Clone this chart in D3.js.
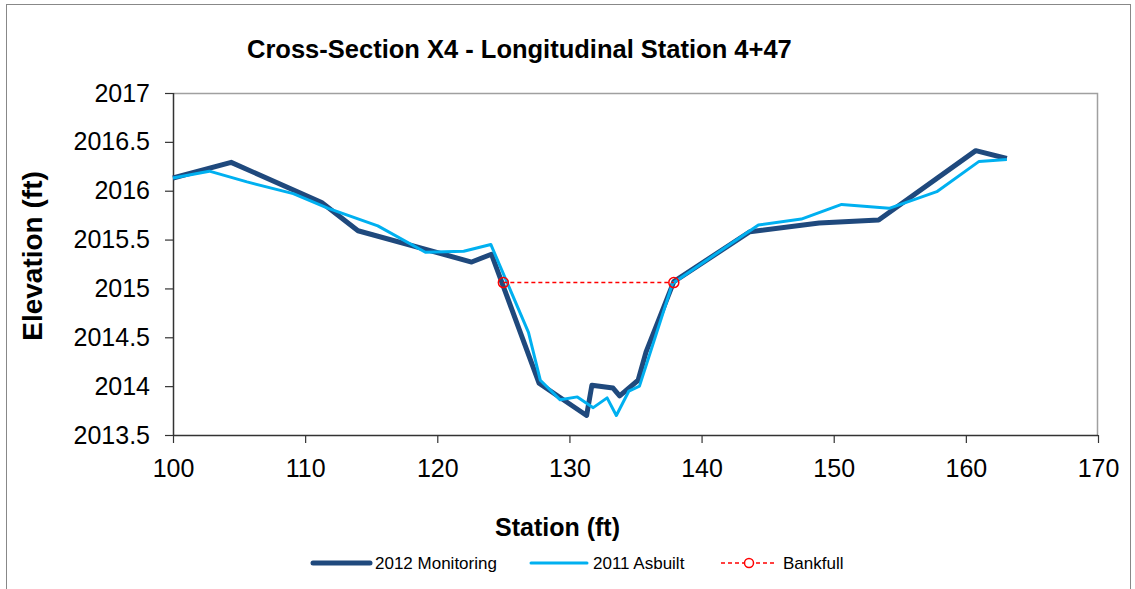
<!DOCTYPE html>
<html>
<head>
<meta charset="utf-8">
<script src="https://cdn.jsdelivr.net/npm/d3@7/dist/d3.min.js"></script>
<style>
  html, body { margin: 0; padding: 0; background: #fff; }
  svg { display: block; }
  text { font-family: "Liberation Sans", Arial, sans-serif; fill: #000; }
</style>
</head>
<body>
<svg id="chart" width="1135" height="589"></svg>
<script>
// ---- Data ----
const monStation = [100, 104.4, 111.25, 114.0, 122.6, 124.1, 127.7, 131.3, 131.7, 133.3, 133.8, 135.2, 135.8, 137.9, 143.65, 148.9, 153.4, 160.75, 163.1];
const monElev    = [2016.13, 2016.29, 2015.88, 2015.59, 2015.27, 2015.35, 2014.03, 2013.70, 2014.01, 2013.98, 2013.90, 2014.06, 2014.35, 2015.07, 2015.58, 2015.67, 2015.70, 2016.41, 2016.33];

const asbStation = [100, 102.75, 105.6, 109.1, 111.75, 115.5, 119.1, 122.0, 124.05, 126.9, 127.8, 129.3, 130.6, 131.8, 132.85, 133.55, 134.5, 135.3, 137.8, 144.3, 147.55, 150.6, 154.2, 157.8, 161.0, 163.1];
const asbElev    = [2016.13, 2016.20, 2016.09, 2015.97, 2015.82, 2015.64, 2015.37, 2015.38, 2015.45, 2014.55, 2014.06, 2013.86, 2013.89, 2013.78, 2013.88, 2013.70, 2013.95, 2014.00, 2015.05, 2015.65, 2015.71, 2015.86, 2015.82, 2015.99, 2016.30, 2016.32];

const bankStation = [125.0, 137.9];
const bankElev    = [2015.06, 2015.06];

const xTicks = [100, 110, 120, 130, 140, 150, 160, 170];
const yTicks = [2013.5, 2014, 2014.5, 2015, 2015.5, 2016, 2016.5, 2017];

const seriesNames = ["2012 Monitoring", "2011 Asbuilt", "Bankfull"];
const titleText = "Cross-Section X4 - Longitudinal Station 4+47";
const xTitle = "Station (ft)";
const yTitle = "Elevation (ft)";

// ---- Layout ----
const svg = d3.select("#chart");
const plot = { left: 173, right: 1098, top: 93, bottom: 435 };
const x = d3.scaleLinear().domain([100, 170]).range([plot.left, plot.right]);
const y = d3.scaleLinear().domain([2013.5, 2017]).range([plot.bottom, plot.top]);

const darkCol = "#1f497d";
const lightCol = "#00b0f0";
const redCol = "#ff0000";

// outer chart border
svg.append("rect").attr("x", 6.5).attr("y", 4.5).attr("width", 1124).attr("height", 600)
  .attr("fill", "none").attr("stroke", "#888").attr("stroke-width", 1);

// plot area border (top & right)
svg.append("path")
  .attr("d", `M${plot.left},${plot.top + 0.5}H${plot.right - 0.5}V${plot.bottom}`)
  .attr("fill", "none").attr("stroke", "#a0a0a0").attr("stroke-width", 1.5);

// axes
const xAxis = d3.axisBottom(x).tickValues(xTicks).tickSize(8).tickPadding(16).tickFormat(d3.format("d"));
const yAxis = d3.axisLeft(y).tickValues(yTicks).tickSize(8).tickPadding(15).tickFormat(d => String(d));

const gx = svg.append("g").attr("transform", `translate(0,${plot.bottom})`).call(xAxis);
const gy = svg.append("g").attr("transform", `translate(${plot.left},0)`).call(yAxis);
[gx, gy].forEach(g => {
  g.select(".domain").attr("stroke", "#333").attr("stroke-width", 1.5);
  g.selectAll(".tick line").attr("stroke", "#333").attr("stroke-width", 1.2);
  g.selectAll(".tick text").attr("font-size", 25).attr("fill", "#000")
    .attr("font-family", '"Liberation Sans", Arial, sans-serif');
});
gx.select(".domain").attr("d", `M${plot.left},0.5H${plot.right}`);
gy.select(".domain").attr("d", `M0.5,${plot.top}V${plot.bottom}`);

// lines
const line = d3.line().x(d => x(d[0])).y(d => y(d[1]));
const monData = monStation.map((s, i) => [s, monElev[i]]);
const asbData = asbStation.map((s, i) => [s, asbElev[i]]);
const bankData = bankStation.map((s, i) => [s, bankElev[i]]);

svg.append("path").datum(monData).attr("d", line)
  .attr("fill", "none").attr("stroke", darkCol).attr("stroke-width", 5).attr("stroke-linejoin", "round");
svg.append("path").datum(asbData).attr("d", line)
  .attr("fill", "none").attr("stroke", lightCol).attr("stroke-width", 3).attr("stroke-linejoin", "round");
svg.append("path").datum(bankData).attr("d", line)
  .attr("fill", "none").attr("stroke", redCol).attr("stroke-width", 1.5).attr("stroke-dasharray", "4,3");
svg.selectAll("circle.bank").data(bankData).enter().append("circle")
  .attr("class", "bank").attr("cx", d => x(d[0])).attr("cy", d => y(d[1])).attr("r", 5)
  .attr("fill", "none").attr("stroke", redCol).attr("stroke-width", 1.5);

// titles
svg.append("text").attr("x", 247).attr("y", 58).attr("font-size", 25.5).attr("font-weight", "bold")
  .text(titleText);
svg.append("text").attr("x", (plot.left + plot.right) / 2 - 78).attr("y", 536).attr("text-anchor", "middle")
  .attr("font-size", 25).attr("font-weight", "bold").text(xTitle);
svg.append("text").attr("transform", `translate(42,256) rotate(-90)`)
  .attr("text-anchor", "middle").attr("font-size", 28).attr("font-weight", "bold").text(yTitle);

// legend
const legY = 563;
const leg = [
  { x1: 313, x2: 370, tx: 375, col: darkCol, w: 5, name: seriesNames[0] },
  { x1: 531, x2: 587, tx: 593, col: lightCol, w: 3, name: seriesNames[1] },
  { x1: 721, x2: 777, tx: 783, col: redCol, w: 1.5, name: seriesNames[2], dash: true }
];
leg.forEach(l => {
  const ln = svg.append("line").attr("x1", l.x1).attr("x2", l.x2).attr("y1", legY).attr("y2", legY)
    .attr("stroke", l.col).attr("stroke-width", l.w).attr("stroke-linecap", l.dash ? "butt" : "round");
  if (l.dash) {
    ln.attr("stroke-dasharray", "4,3");
    svg.append("circle").attr("cx", (l.x1 + l.x2) / 2).attr("cy", legY).attr("r", 4.5)
      .attr("fill", "#fff").attr("stroke", redCol).attr("stroke-width", 1.5);
  }
  svg.append("text").attr("x", l.tx).attr("y", legY + 6).attr("font-size", 17).text(l.name);
});
</script>
</body>
</html>
